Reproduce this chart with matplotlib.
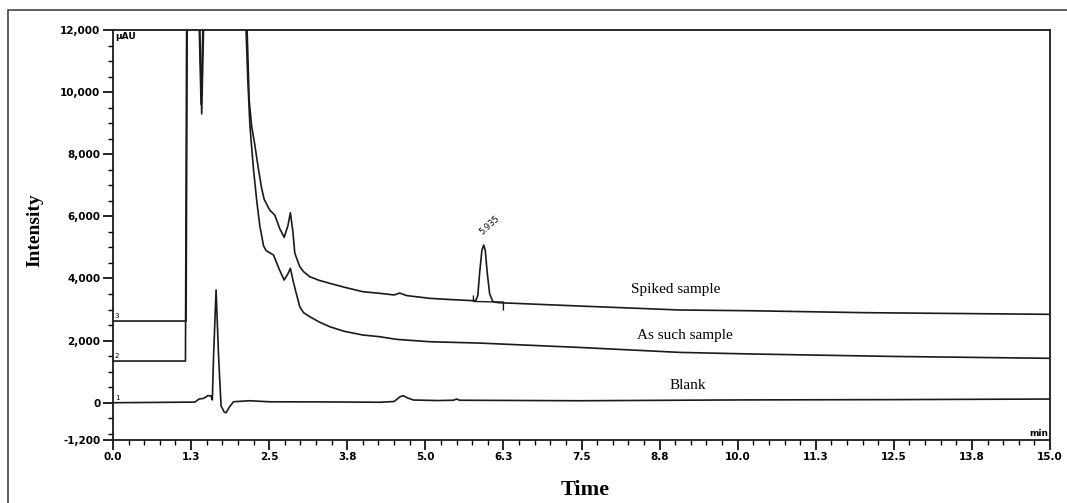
import matplotlib.pyplot as plt
import numpy as np
from matplotlib.ticker import MultipleLocator, FixedLocator

# retention time (min) / intensity (uAU)
spiked_t = [0.0, 1.17, 1.19, 1.38, 1.42, 1.46, 2.13, 2.15, 2.18, 2.22, 2.27, 2.33,
            2.38, 2.42, 2.47, 2.51, 2.59, 2.67, 2.74, 2.80, 2.84, 2.88, 2.91, 2.99,
            3.05, 3.15, 3.3, 3.47, 3.7, 4.0, 4.27, 4.5, 4.59, 4.7, 5.07, 5.34,
            5.77, 5.81, 5.84, 5.87, 5.905, 5.935, 5.96, 5.99, 6.03, 6.08, 6.12, 6.19,
            7.47, 9.08, 10.2, 12.0, 15.0]
spiked_v = [2630, 2630, 13000, 13000, 9300, 13000, 13000, 11800, 9735, 8900, 8300, 7500,
            6900, 6550, 6350, 6200, 6040, 5600, 5325, 5700, 6117, 5500, 4820, 4380,
            4220, 4057, 3940, 3844, 3720, 3574, 3522, 3470, 3530, 3450, 3361, 3329,
            3284, 3300, 3450, 4200, 4900, 5077, 4900, 4200, 3500, 3260, 3235, 3220,
            3113, 2985, 2962, 2900, 2846]

assuch_t = [0.0, 1.16, 1.18, 1.37, 1.41, 1.45, 2.11, 2.13, 2.16, 2.19, 2.21, 2.25,
            2.30, 2.35, 2.41, 2.45, 2.49, 2.57, 2.66, 2.74, 2.80, 2.84, 2.88, 2.92,
            2.99, 3.05, 3.15, 3.3, 3.47, 3.7, 4.0, 4.27, 4.54, 5.07, 5.87, 7.47,
            9.08, 10.2, 12.5, 15.0]
assuch_v = [1343, 1343, 13000, 13000, 9600, 13000, 13000, 12000, 10300, 9000, 8458, 7500,
            6520, 5700, 5050, 4900, 4850, 4755, 4300, 3950, 4150, 4327, 3950, 3628,
            3091, 2900, 2769, 2600, 2447, 2300, 2180, 2125, 2040, 1964, 1920, 1780,
            1620, 1570, 1490, 1430]

blank_t = [0.0, 1.31, 1.38, 1.45, 1.52, 1.57, 1.59, 1.61, 1.65, 1.69, 1.73, 1.78,
           1.81, 1.87, 1.93, 2.19, 2.51, 3.5, 4.27, 4.5, 4.6, 4.65, 4.72, 4.81,
           5.2, 5.45, 5.5, 5.55, 7.47, 10.0, 12.5, 15.0]
blank_v = [0, 20, 120, 140, 230, 215, 90, 1500, 3630, 1500, -100, -300,
           -322, -120, 32, 64, 30, 25, 15, 40, 200, 225, 150, 87,
           70, 80, 120, 80, 64, 90, 100, 119]

# integration baseline drawn under the 5.935 peak
base_t = [5.77, 5.77, 6.25, 6.25]
base_v = [3430, 3260, 3240, 2990]

yticks = [12000, 10000, 8000, 6000, 4000, 2000, 0, -1200]
ylabels = ['12,000', '10,000', '8,000', '6,000', '4,000', '2,000', '0', '-1,200']
xticks = [0, 1.25, 2.5, 3.75, 5, 6.25, 7.5, 8.75, 10, 11.25, 12.5, 13.75, 15]
xlabels = ['0.0', '1.3', '2.5', '3.8', '5.0', '6.3', '7.5', '8.8', '10.0', '11.3', '12.5', '13.8', '15.0']

fig = plt.figure(figsize=(10.67, 5.03), dpi=100)
ax = fig.add_axes([113/1067, 1-440/503, 937/1067, 410/503])

lc = '#1a1a1a'
ax.plot(spiked_t, spiked_v, color=lc, lw=1.2)
ax.plot(assuch_t, assuch_v, color=lc, lw=1.2)
ax.plot(blank_t, blank_v, color=lc, lw=1.2)
ax.plot(base_t, base_v, color=lc, lw=1.0)

ax.set_xlim(0, 15)
ax.set_ylim(-1200, 12000)
ax.xaxis.set_major_locator(FixedLocator(xticks))
ax.set_xticklabels(xlabels)
ax.xaxis.set_minor_locator(MultipleLocator(0.25))
ax.yaxis.set_major_locator(FixedLocator(yticks))
ax.set_yticklabels(ylabels)
ax.yaxis.set_minor_locator(FixedLocator([-1000, -500] + list(range(500, 12000, 500))))

ax.tick_params(which='major', direction='out', length=7, width=1.2, labelsize=7.5, pad=2)
ax.tick_params(which='minor', direction='out', length=3.5, width=1.0)
for lab in ax.get_xticklabels() + ax.get_yticklabels():
    lab.set_fontweight('bold')
for s in ax.spines.values():
    s.set_linewidth(1.3)
    s.set_color(lc)

serif = 'Liberation Serif'
ax.text(9.0, 3630, 'Spiked sample', family=serif, fontsize=11, ha='center', va='center')
ax.text(9.15, 2170, 'As such sample', family=serif, fontsize=11, ha='center', va='center')
ax.text(9.2, 560, 'Blank', family=serif, fontsize=11, ha='center', va='center')
ax.text(5.93, 5350, '5.935', fontsize=6, rotation=42, ha='left', va='bottom',
        rotation_mode='anchor')
ax.text(0.03, 11950, 'µAU', fontsize=6.5, fontweight='bold', ha='left', va='top')
ax.text(14.97, -1130, 'min', fontsize=6.5, fontweight='bold', ha='right', va='bottom')
ax.text(0.03, 2700, '3', fontsize=5, ha='left', va='bottom')
ax.text(0.03, 1410, '2', fontsize=5, ha='left', va='bottom')
ax.text(0.03, 70, '1', fontsize=5, ha='left', va='bottom')

fig.text(585/1067, 1-490/503, 'Time', family=serif, fontsize=16, fontweight='bold',
         ha='center', va='center')
fig.text(35/1067, 1-230/503, 'Intensity', family=serif, fontsize=14, fontweight='bold',
         ha='center', va='center', rotation=90)

# outer frame of the figure panel
fig.add_artist(plt.Rectangle((8/1067, -0.1), 1.2, 1.1 - 10/503, fill=False,
                             transform=fig.transFigure, lw=1.2, ec='#444444'))

plt.savefig('out.png', dpi=100)
